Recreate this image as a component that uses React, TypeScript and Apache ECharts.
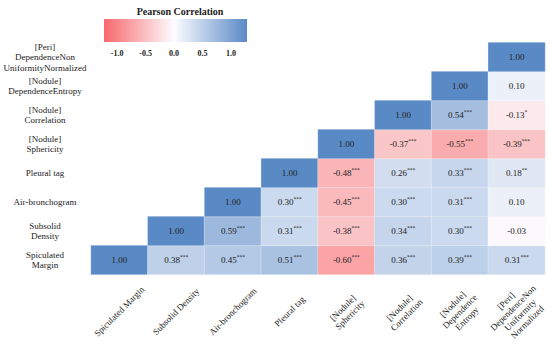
import React, { useEffect, useRef } from "react";
import * as echarts from "echarts";

const xLabels = [
  "Spiculated Margin",
  "Subsolid Density",
  "Air-bronchogram",
  "Pleural tag",
  "[Nodule]\nSphericity",
  "[Nodule]\nCorrelation",
  "[Nodule]\nDependence\nEntropy",
  "[Peri]\nDependenceNon\nUniformity\nNormalized",
];
const yLabels = [
  "Spiculated\nMargin",
  "Subsolid\nDensity",
  "Air-bronchogram",
  "Pleural tag",
  "[Nodule]\nSphericity",
  "[Nodule]\nCorrelation",
  "[Nodule]\nDependenceEntropy",
  "[Peri]\nDependenceNon\nUniformityNormalized",
];

// rows from bottom (y index 0) to top; null = empty cell
const rowSpiculated = [1.0, 0.38, 0.45, 0.51, -0.6, 0.36, 0.39, 0.31];
const rowSubsolid = [null, 1.0, 0.59, 0.31, -0.38, 0.34, 0.3, -0.03];
const rowAirBroncho = [null, null, 1.0, 0.3, -0.45, 0.3, 0.31, 0.1];
const rowPleural = [null, null, null, 1.0, -0.48, 0.26, 0.33, 0.18];
const rowSphericity = [null, null, null, null, 1.0, -0.37, -0.55, -0.39];
const rowCorrelation = [null, null, null, null, null, 1.0, 0.54, -0.13];
const rowDepEntropy = [null, null, null, null, null, null, 1.0, 0.1];
const rowPeri = [null, null, null, null, null, null, null, 1.0];

const starsSpiculated = ["", "***", "***", "***", "***", "***", "***", "***"];
const starsSubsolid = ["", "", "***", "***", "***", "***", "***", ""];
const starsAirBroncho = ["", "", "", "***", "***", "***", "***", ""];
const starsPleural = ["", "", "", "", "***", "***", "***", "**"];
const starsSphericity = ["", "", "", "", "", "***", "***", "***"];
const starsCorrelation = ["", "", "", "", "", "", "***", "*"];
const starsDepEntropy = ["", "", "", "", "", "", "", ""];
const starsPeri = ["", "", "", "", "", "", "", ""];

const colorbarTicks = [-1.0, -0.5, 0.0, 0.5, 1.0];
const colorbarMin = -1.23;
const colorbarMax = 1.28;
const scaleColors = ["#F8696B", "#FCFCFF", "#5A8AC6"];

const valueRows = [
  rowSpiculated,
  rowSubsolid,
  rowAirBroncho,
  rowPleural,
  rowSphericity,
  rowCorrelation,
  rowDepEntropy,
  rowPeri,
];
const starRows = [
  starsSpiculated,
  starsSubsolid,
  starsAirBroncho,
  starsPleural,
  starsSphericity,
  starsCorrelation,
  starsDepEntropy,
  starsPeri,
];

const FONT = "'Liberation Serif', 'Times New Roman', serif";

export default function App() {
  const ref = useRef<HTMLDivElement>(null);
  useEffect(() => {
    document.body.style.margin = "0";
    if (!ref.current) return;
    const chart = echarts.init(ref.current, null, { renderer: "svg" });
    const data: any[] = [];
    valueRows.forEach((row, y) => {
      row.forEach((v, x) => {
        if (v !== null) data.push([x, y, v, starRows[y][x]]);
      });
    });
    const option: any = {
      animation: false,
      title: {
        text: "Pearson Correlation",
        left: 175,
        top: 1,
        textAlign: "center",
        textStyle: { fontFamily: FONT, fontSize: 10, fontWeight: "bold", color: "#222" },
      },
      grid: [
        { left: 91, right: 5, top: 42.5, bottom: 72.5, outerBoundsMode: "none" },
        { left: 104, width: 143, top: 19, height: 23, outerBoundsMode: "none" },
      ],
      xAxis: [
        {
          type: "category",
          data: xLabels,
          gridIndex: 0,
          axisLine: { show: false },
          axisTick: { show: false },
          splitLine: { show: false },
          axisLabel: {
            interval: 0,
            rotate: 45,
            align: "center",
            verticalAlign: "middle",
            margin: 37,
            fontFamily: FONT,
            fontSize: 9,
            lineHeight: 10,
            color: "#222",
          },
        },
        {
          type: "value",
          gridIndex: 1,
          min: colorbarMin,
          max: colorbarMax,
          axisLine: { show: false },
          axisTick: { show: false },
          splitLine: { show: false },
          axisLabel: {
            customValues: colorbarTicks,
            formatter: (v: number) => v.toFixed(1),
            fontFamily: FONT,
            fontSize: 8,
            fontWeight: "bold",
            color: "#222",
            margin: 7,
          },
        },
      ],
      yAxis: [
        {
          type: "category",
          data: yLabels,
          gridIndex: 0,
          axisLine: { show: false },
          axisTick: { show: false },
          splitLine: { show: false },
          axisLabel: {
            interval: 0,
            align: "center",
            margin: 46,
            fontFamily: FONT,
            fontSize: 9,
            lineHeight: 10.5,
            color: "#222",
          },
        },
        {
          type: "value",
          gridIndex: 1,
          show: false,
          min: 0,
          max: 1,
        },
      ],
      visualMap: {
        show: false,
        type: "continuous",
        min: -1,
        max: 1,
        dimension: 2,
        seriesIndex: 0,
        inRange: { color: scaleColors },
      },
      graphic: [
        {
          type: "rect",
          shape: { x: 104, y: 19, width: 143, height: 23 },
          style: {
            fill: new echarts.graphic.LinearGradient(0, 0, 1, 0, [
              { offset: 0, color: scaleColors[0] },
              { offset: 0.49, color: scaleColors[1] },
              { offset: 1, color: scaleColors[2] },
            ]),
          },
          silent: true,
        },
      ],
      series: [
        {
          type: "heatmap",
          xAxisIndex: 0,
          yAxisIndex: 0,
          data,
          itemStyle: { borderColor: "rgba(255,255,255,0.6)", borderWidth: 0.5 },
          emphasis: { disabled: true },
          label: {
            show: true,
            fontFamily: FONT,
            color: "#222",
            formatter: (p: any) => {
              const v = (p.data[2] as number).toFixed(2);
              const s = p.data[3] as string;
              return s ? `{v|${v}}{s|${s}}` : `{v|${v}}`;
            },
            rich: {
              v: { fontFamily: FONT, fontSize: 9, lineHeight: 13, color: "#222" },
              s: { fontFamily: FONT, fontSize: 5.5, lineHeight: 6, verticalAlign: "top", color: "#222" },
            },
          },
        },
        {
          type: "scatter",
          xAxisIndex: 1,
          yAxisIndex: 1,
          data: [],
        },
      ],
    };
    chart.setOption(option);
    return () => chart.dispose();
  }, []);
  return <div ref={ref} style={{ width: 550, height: 347 }} />;
}
